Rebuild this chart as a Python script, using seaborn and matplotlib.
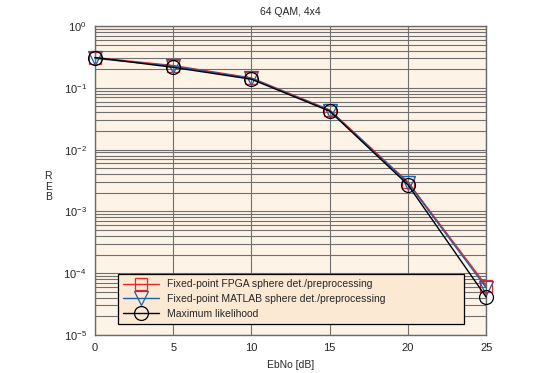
import numpy as np
import pandas as pd
import seaborn as sns
import matplotlib.pyplot as plt
from matplotlib.ticker import LogLocator, NullFormatter

# values
ebno = [0, 5, 10, 15, 20, 25]
ber_fpga = [0.31, 0.23, 0.145, 0.044, 0.0030, 6.3e-5]
ber_matlab = [0.30, 0.225, 0.142, 0.043, 0.0029, 5.8e-5]
ber_ml = [0.31, 0.215, 0.138, 0.042, 0.0027, 4.1e-5]

labels = ["Fixed-point FPGA sphere det./preprocessing",
          "Fixed-point MATLAB sphere det./preprocessing",
          "Maximum likelihood"]
colors = ["#e8262a", "#1f5fa8", "#000000"]
markers = ["s", "v", "o"]
msizes = [9, 10.5, 10]

sns.set_style("white")
plt.rcParams["font.family"] = ["Liberation Sans", "DejaVu Sans"]

fig = plt.figure(figsize=(5.55, 3.73), dpi=100)
ax = fig.add_axes([0.171, 0.102, 0.705, 0.828])
ax.set_facecolor("#fdf3e6")

for ys, lab, c, m, ms in zip([ber_fpga, ber_matlab, ber_ml], labels, colors, markers, msizes):
    df = pd.DataFrame({"EbNo": ebno, "BER": ys})
    sns.lineplot(data=df, x="EbNo", y="BER", ax=ax, color=c, marker=m,
                 markersize=ms, mfc="none", mec=c, mew=0.9, lw=1.0, label=lab,
                 clip_on=False, zorder=3)

ax.set_yscale("log")
ax.set_ylim(1e-5, 1)
ax.set_xlim(0, 25)
ax.set_xticks([0, 5, 10, 15, 20, 25])
ax.yaxis.set_major_locator(LogLocator(base=10, numticks=10))
ax.yaxis.set_minor_locator(LogLocator(base=10, subs=np.arange(2, 10), numticks=10))
ax.yaxis.set_minor_formatter(NullFormatter())
ax.grid(True, which="major", color="#707070", lw=0.8)
ax.grid(True, which="minor", axis="y", color="#707070", lw=0.8)
ax.tick_params(which="both", length=0, labelsize=8, pad=6)
for s in ax.spines.values():
    s.set_color("#6a6a6a")
    s.set_linewidth(1.0)

ax.set_xlabel("EbNo [dB]", fontsize=7.5, labelpad=5)
ax.set_ylabel("")
ax.set_title("64 QAM, 4x4", fontsize=7.5, pad=8)
fig.text(0.087, 0.50, "R\nE\nB", fontsize=7.5, ha="center", va="center", linespacing=1.1)

leg = ax.legend(loc="lower left", bbox_to_anchor=(0.046, 0.019, 0.911, 0.195),
                mode="expand", fontsize=7.5, frameon=True, fancybox=False,
                handlelength=3.4, labelspacing=0.45, borderpad=0.5)
leg.get_frame().set_facecolor("#fbe9d3")
leg.get_frame().set_edgecolor("#000000")
leg.get_frame().set_linewidth(0.9)
leg.get_frame().set_alpha(1)
leg.set_zorder(5)

fig.savefig("out.png", dpi=100, facecolor="white")
